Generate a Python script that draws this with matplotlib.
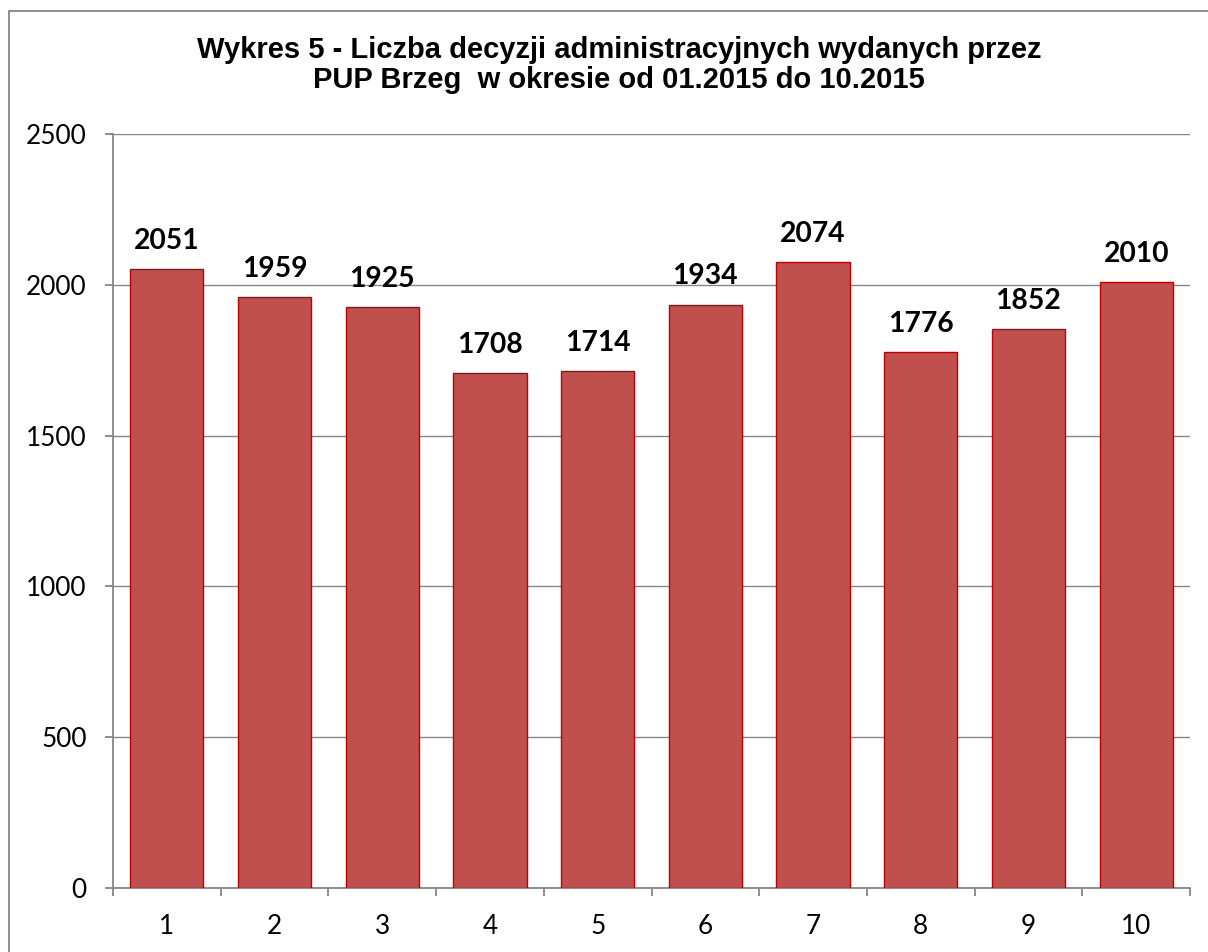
import matplotlib
matplotlib.use("Agg")
import matplotlib.pyplot as plt
from matplotlib.patches import Rectangle
from matplotlib.ticker import FixedLocator, NullFormatter, FixedFormatter

categories = ["1", "2", "3", "4", "5", "6", "7", "8", "9", "10"]
values = [2051, 1959, 1925, 1708, 1714, 1934, 2074, 1776, 1852, 2010]
yticks = [0, 500, 1000, 1500, 2000, 2500]
title = "Wykres 5 - Liczba decyzji administracyjnych wydanych przez\nPUP Brzeg  w okresie od 01.2015 do 10.2015"

W, H = 1208, 952
fig = plt.figure(figsize=(W / 100, H / 100), dpi=100)
fig.patch.set_facecolor("white")

# outer border
fig.patches.append(Rectangle((9 / W, -0.01), 1.02, 1 - 11 / H + 0.01, transform=fig.transFigure,
                             fill=False, edgecolor="#868686", linewidth=1.3))

ax = fig.add_axes([113 / W, 1 - 888 / H, (1190 - 113) / W, (888 - 134) / H])
x = list(range(1, len(values) + 1))
ax.bar(x, values, width=0.68, color="#C0504D", edgecolor="#C00000", linewidth=1.0, zorder=3)

ax.set_xlim(0.5, len(values) + 0.5)
ax.set_ylim(0, 2500)
ax.set_yticks(yticks)
ax.yaxis.grid(True, color="#868686", linewidth=1.0, zorder=0)
ax.set_axisbelow(True)

for s in ["top", "right"]:
    ax.spines[s].set_visible(False)
for s in ["left", "bottom"]:
    ax.spines[s].set_color("#868686")
    ax.spines[s].set_linewidth(1.3)

ax.xaxis.set_major_locator(FixedLocator([i + 0.5 for i in range(0, len(values) + 1)]))
ax.xaxis.set_major_formatter(NullFormatter())
ax.xaxis.set_minor_locator(FixedLocator(x))
ax.xaxis.set_minor_formatter(FixedFormatter(categories))
ax.tick_params(axis="x", which="major", length=6, width=1.3, color="#868686", direction="out")
ax.tick_params(axis="x", which="minor", length=0, pad=19, labelsize=18.8)
ax.tick_params(axis="y", length=6, width=1.3, color="#868686", direction="out", pad=13, labelsize=18.8)
for lab in ax.get_xticklabels(minor=True) + ax.get_yticklabels():
    lab.set_fontfamily("Lato")

for xi, v in zip(x, values):
    ax.annotate(str(v), (xi, v), xytext=(0, 11), textcoords="offset points",
                ha="center", va="bottom", fontsize=20.3, fontweight="bold", fontfamily="Lato")

fig.text(619 / W, 1 - 65 / H, title, ha="center", va="center", fontsize=21,
         fontweight="bold", fontfamily="Liberation Sans", linespacing=1.08)

fig.savefig("out.png", dpi=100)
